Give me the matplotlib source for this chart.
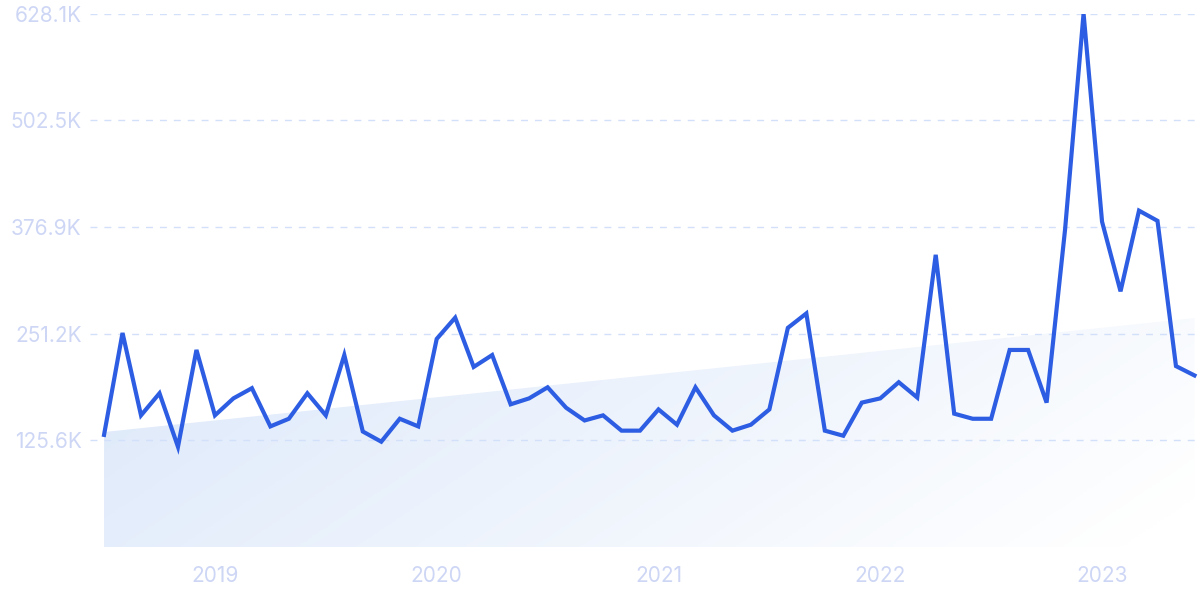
import numpy as np
import matplotlib.pyplot as plt
from matplotlib.ticker import FuncFormatter
from matplotlib.colors import LinearSegmentedColormap
from matplotlib.patches import Polygon

# monthly values, Jul 2018 .. Jun 2023 (thousands)
values = [
    132, 252, 155, 181, 118, 232, 155, 175, 187, 142, 151, 181,
    155, 226, 136, 124, 151, 142, 245, 270, 212, 226, 168, 175,
    188, 164, 149, 155, 137, 137, 162, 144, 188, 155, 137, 144,
    162, 258, 275, 137, 131, 170, 175, 194, 176, 344, 157, 151,
    151, 232, 232, 170, 374, 628.1, 383, 301, 396, 384, 213, 202,
]
year_labels = ["2019", "2020", "2021", "2022", "2023"]
year_month_index = [6, 18, 30, 42, 54]
y_max = 628.1
y_ticks = [125.6, 251.2, 376.9, 502.5, 628.1]

LINE = "#2d5de3"
LABEL = "#cdd6f5"
GRID = "#d3e0fa"

x = np.arange(len(values))
y = np.array(values)

fig = plt.figure(figsize=(12, 6), dpi=100)
ax = fig.add_axes([0.075, 0.0883, 0.925, 0.8892])

# trend line area with gradient
slope, intercept = np.polyfit(x, y, 1)
t0 = intercept + slope * x[0]
t1 = intercept + slope * x[-1]
poly = Polygon([(x[0], 0), (x[0], t0), (x[-1], t1), (x[-1], 0)],
               closed=True, facecolor="none", edgecolor="none")
ax.add_patch(poly)
u = np.linspace(0, 1, 300)
v = np.linspace(0, 1, 150)
U, V = np.meshgrid(u, v)
Z = np.clip(0.8 * U + 0.25 * (1 - V), 0, 1)
cmap = LinearSegmentedColormap.from_list("fill", ["#dce8fa", "#ffffff"])
im = ax.imshow(Z, cmap=cmap, vmin=0, vmax=1, origin="lower", aspect="auto",
               extent=(x[0], x[-1], 0, max(t0, t1)), zorder=1)
im.set_clip_path(poly)

ax.plot(x, y, color=LINE, lw=3, solid_joinstyle="miter", zorder=3)

ax.set_xlim(-0.76, len(values) - 1 + 0.3)
ax.set_ylim(0, y_max)
ax.set_yticks(y_ticks)
ax.yaxis.set_major_formatter(FuncFormatter(lambda v, p: f"{v:.1f}K"))
ax.set_xticks(year_month_index)
ax.set_xticklabels(year_labels)
ax.tick_params(length=0, labelsize=15, labelcolor=LABEL)
ax.tick_params(axis="x", pad=14)
ax.tick_params(axis="y", pad=6)
for lab in ax.get_xticklabels() + ax.get_yticklabels():
    lab.set_fontfamily("Inter")
ax.grid(axis="y", color=GRID, linestyle=(0, (5, 5)), lw=1, zorder=0)
for s in ax.spines.values():
    s.set_visible(False)

fig.savefig("out.png", dpi=100)
